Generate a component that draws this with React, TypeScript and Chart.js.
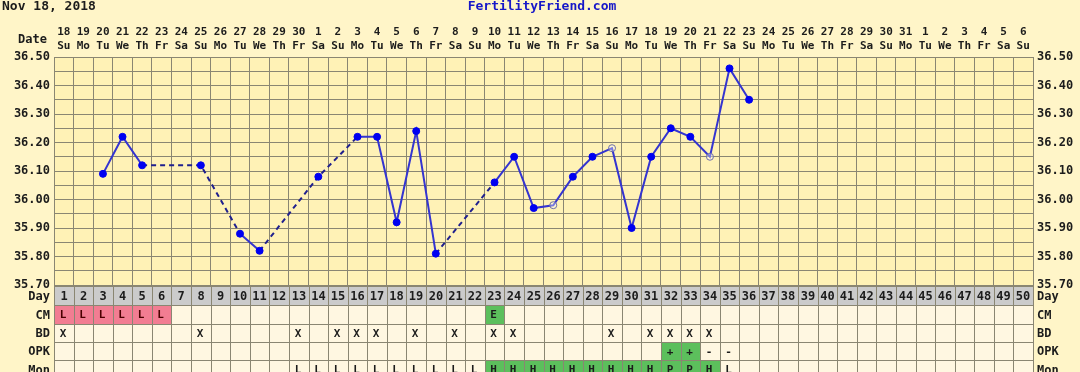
import { useEffect, useRef } from 'react';
import { Chart, registerables } from 'chart.js';

Chart.register(...registerables);

const chartTitle = 'Nov 18, 2018';
const siteName = 'FertilityFriend.com';

const dateLabels = [
  '18', '19', '20', '21', '22', '23', '24', '25', '26', '27', '28', '29', '30',
  '1', '2', '3', '4', '5', '6', '7', '8', '9', '10', '11', '12', '13', '14', '15', '16',
  '17', '18', '19', '20', '21', '22', '23', '24', '25', '26', '27', '28', '29', '30', '31',
  '1', '2', '3', '4', '5', '6',
];
const weekdayLabels = [
  'Su', 'Mo', 'Tu', 'We', 'Th', 'Fr', 'Sa', 'Su', 'Mo', 'Tu', 'We', 'Th', 'Fr', 'Sa',
  'Su', 'Mo', 'Tu', 'We', 'Th', 'Fr', 'Sa', 'Su', 'Mo', 'Tu', 'We', 'Th', 'Fr', 'Sa',
  'Su', 'Mo', 'Tu', 'We', 'Th', 'Fr', 'Sa', 'Su', 'Mo', 'Tu', 'We', 'Th', 'Fr', 'Sa',
  'Su', 'Mo', 'Tu', 'We', 'Th', 'Fr', 'Sa', 'Su',
];
const cycleDays = [
  1, 2, 3, 4, 5, 6, 7, 8, 9, 10, 11, 12, 13, 14, 15, 16, 17, 18, 19, 20, 21, 22, 23, 24, 25,
  26, 27, 28, 29, 30, 31, 32, 33, 34, 35, 36, 37, 38, 39, 40, 41, 42, 43, 44, 45, 46, 47, 48, 49, 50,
];

const tempDays = [3, 4, 5, 8, 10, 11, 14, 16, 17, 18, 19, 20, 23, 24, 25, 26, 27, 28, 29, 30, 31, 32, 33, 34, 35, 36];
const tempValues = [
  36.09, 36.22, 36.12, 36.12, 35.88, 35.82, 36.08, 36.22, 36.22, 35.92, 36.24, 35.81, 36.06,
  36.15, 35.97, 35.98, 36.08, 36.15, 36.18, 35.90, 36.15, 36.25, 36.22, 36.15, 36.46, 36.35,
];
const openCircleDays = [26, 29, 34];

const yGridValues = [
  35.7, 35.75, 35.8, 35.85, 35.9, 35.95, 36.0, 36.05, 36.1, 36.15, 36.2, 36.25, 36.3, 36.35, 36.4, 36.45, 36.5,
];
const yLabelValues = [35.7, 35.8, 35.9, 36.0, 36.1, 36.2, 36.3, 36.4, 36.5];

const cmRow = [
  'L', 'L', 'L', 'L', 'L', 'L', '', '', '', '', '', '', '', '', '', '', '', '', '', '', '', '', 'E', '', '',
  '', '', '', '', '', '', '', '', '', '', '', '', '', '', '', '', '', '', '', '', '', '', '', '', '',
];
const bdRow = [
  'X', '', '', '', '', '', '', 'X', '', '', '', '', 'X', '', 'X', 'X', 'X', '', 'X', '', 'X', '', 'X', 'X', '',
  '', '', '', 'X', '', 'X', 'X', 'X', 'X', '', '', '', '', '', '', '', '', '', '', '', '', '', '', '', '',
];
const opkRow = [
  '', '', '', '', '', '', '', '', '', '', '', '', '', '', '', '', '', '', '', '', '', '', '', '', '',
  '', '', '', '', '', '', '+', '+', '-', '-', '', '', '', '', '', '', '', '', '', '', '', '', '', '', '',
];
const monRow = [
  '', '', '', '', '', '', '', '', '', '', '', '', 'L', 'L', 'L', 'L', 'L', 'L', 'L', 'L', 'L', 'L', 'H', 'H', 'H',
  'H', 'H', 'H', 'H', 'H', 'H', 'P', 'P', 'H', 'L', '', '', '', '', '', '', '', '', '', '', '', '', '', '', '',
];
const rowNames = ['Day', 'CM', 'BD', 'OPK', 'Mon'];

const PAGE_BG = '#fff5c8';
const PLOT_BG = '#fff2b6';
const CELL_BG = '#fff7e1';
const DAY_BG = '#cbcbcb';
const PINK = '#f27d92';
const GREEN = '#5cbf5c';
const GRID = '#8a8672';
const TEXT = '#1c1c1c';
const MONO = '"DejaVu Sans Mono", "Liberation Mono", monospace';

function cellColor(row: string, val: string): string {
  if (row === 'Day') return DAY_BG;
  if (row === 'CM' && val === 'L') return PINK;
  if (row === 'CM' && val === 'E') return GREEN;
  if (row === 'OPK' && val === '+') return GREEN;
  if (row === 'Mon' && (val === 'H' || val === 'P')) return GREEN;
  return CELL_BG;
}

const backgroundPlugin = {
  id: 'ffBackground',
  beforeDraw(chart: any) {
    const { ctx, chartArea } = chart;
    ctx.save();
    ctx.fillStyle = PAGE_BG;
    ctx.fillRect(0, 0, chart.width, chart.height);
    ctx.fillStyle = PLOT_BG;
    ctx.fillRect(chartArea.left, chartArea.top, chartArea.right - chartArea.left, chartArea.bottom - chartArea.top);
    ctx.restore();
  },
};

const tablePlugin = {
  id: 'ffTable',
  afterDraw(chart: any) {
    const { ctx, chartArea } = chart;
    const xs = chart.scales.x;
    ctx.save();
    // header
    ctx.textBaseline = 'middle';
    ctx.fillStyle = TEXT;
    ctx.font = `bold 13px ${MONO}`;
    ctx.textAlign = 'left';
    ctx.fillText(chartTitle, 2, 7);
    ctx.fillStyle = '#1717c8';
    ctx.textAlign = 'center';
    ctx.fillText(siteName, 542, 7);
    ctx.fillStyle = TEXT;
    ctx.font = `bold 12px ${MONO}`;
    ctx.textAlign = 'right';
    ctx.fillText('Date', 47, 40);
    ctx.font = `bold 11px ${MONO}`;
    ctx.textAlign = 'center';
    cycleDays.forEach((d, i) => {
      const cx = xs.getPixelForValue(d);
      ctx.fillText(dateLabels[i], cx, 32);
      ctx.fillText(weekdayLabels[i], cx, 46);
    });

    // table rows
    const tops = [chartArea.bottom + 1, 305, 324, 342, 360];
    const bottoms = [305, 324, 342, 360, 379];
    const rows = [cycleDays.map(String), cmRow, bdRow, opkRow, monRow];
    rows.forEach((vals, r) => {
      const name = rowNames[r];
      const top = tops[r];
      const bot = bottoms[r];
      const cy = (top + bot) / 2 + 1;
      cycleDays.forEach((d, i) => {
        const x0 = Math.round(xs.getPixelForValue(d - 0.5));
        const x1 = Math.round(xs.getPixelForValue(d + 0.5));
        ctx.fillStyle = cellColor(name, vals[i]);
        ctx.fillRect(x0, top, x1 - x0, bot - top);
        ctx.strokeStyle = GRID;
        ctx.lineWidth = 1;
        ctx.strokeRect(x0 + 0.5, top + 0.5, x1 - x0, bot - top);
        if (vals[i]) {
          ctx.fillStyle = name === 'CM' && vals[i] === 'L' ? '#4a0000' : TEXT;
          ctx.font = name === 'Day' ? `bold 12px ${MONO}` : `bold 11px ${MONO}`;
          ctx.textAlign = 'center';
          ctx.fillText(vals[i], (x0 + x1) / 2 - (name === 'Day' ? 0 : 1), cy);
        }
      });
      ctx.fillStyle = TEXT;
      ctx.font = `bold 12px ${MONO}`;
      ctx.textAlign = 'right';
      ctx.fillText(name, 50, cy);
      ctx.textAlign = 'left';
      ctx.fillText(name, chartArea.right + 4, cy);
    });
    ctx.restore();
  },
};

export default function App() {
  const canvasRef = useRef<HTMLCanvasElement>(null);

  useEffect(() => {
    const canvas = canvasRef.current;
    if (!canvas) return;
    const points = tempDays.map((d, i) => ({ x: d, y: tempValues[i] }));
    const isGap = (c: any) => c.p1.parsed.x - c.p0.parsed.x > 1;
    const fmt = (v: any) => {
      const n = Math.round(Number(v) * 100);
      return n % 10 === 0 ? (n / 100).toFixed(2) : '';
    };
    const tickFont = { family: MONO, size: 12, weight: 'bold' as const };

    const chart = new Chart(canvas, {
      type: 'line',
      data: {
        datasets: [
          {
            label: 'Temperature',
            data: points,
            borderColor: '#3434d0',
            borderWidth: 2,
            pointRadius: 3.5,
            pointHoverRadius: 3.5,
            pointBorderWidth: 1,
            pointBackgroundColor: tempDays.map((d) => (openCircleDays.includes(d) ? 'rgba(255,255,255,0.35)' : '#0000f0')),
            pointBorderColor: tempDays.map((d) => (openCircleDays.includes(d) ? '#6e6eaa' : '#0000f0')),
            tension: 0,
            segment: {
              borderDash: (c: any) => (isGap(c) ? [5, 4] : undefined),
              borderColor: (c: any) => (isGap(c) ? '#20208e' : undefined),
            },
          },
        ],
      },
      options: {
        responsive: false,
        animation: false,
        devicePixelRatio: 1,
        layout: { padding: { top: 57, bottom: 87, left: 0, right: 0 } },
        plugins: {
          legend: { display: false },
          title: { display: false },
          tooltip: { enabled: false },
        },
        events: [],
        scales: {
          x: {
            type: 'linear',
            min: 0.5,
            max: 50.5,
            ticks: { display: false },
            grid: { color: GRID, drawTicks: false, lineWidth: 1 },
            border: { display: true, color: GRID },
            afterBuildTicks: (s: any) => {
              s.ticks = [0, ...cycleDays].map((d) => ({ value: d + 0.5 }));
            },
            afterFit: (s: any) => {
              s.height = 0;
            },
          },
          y: {
            type: 'linear',
            position: 'left',
            min: 35.7,
            max: 36.5,
            ticks: { callback: fmt, color: TEXT, font: tickFont, padding: 4, autoSkip: false },
            grid: { color: GRID, drawTicks: false, lineWidth: 1 },
            border: { display: true, color: GRID },
            afterBuildTicks: (s: any) => {
              s.ticks = yGridValues.map((v) => ({ value: v }));
            },
            afterFit: (s: any) => {
              s.width = 54;
            },
          },
          y2: {
            type: 'linear',
            position: 'right',
            min: 35.7,
            max: 36.5,
            ticks: { callback: fmt, color: TEXT, font: tickFont, padding: 4, autoSkip: false },
            grid: { display: false, drawTicks: false },
            border: { display: true, color: GRID },
            afterBuildTicks: (s: any) => {
              s.ticks = yLabelValues.map((v) => ({ value: v }));
            },
            afterFit: (s: any) => {
              s.width = 47;
            },
          },
        },
      } as any,
      plugins: [backgroundPlugin, tablePlugin],
    });
    return () => chart.destroy();
  }, []);

  return (
    <div style={{ position: 'fixed', left: 0, top: 0, width: 1080, height: 372, background: PAGE_BG }}>
      <canvas ref={canvasRef} width={1080} height={372} style={{ display: 'block', width: 1080, height: 372 }} />
    </div>
  );
}
